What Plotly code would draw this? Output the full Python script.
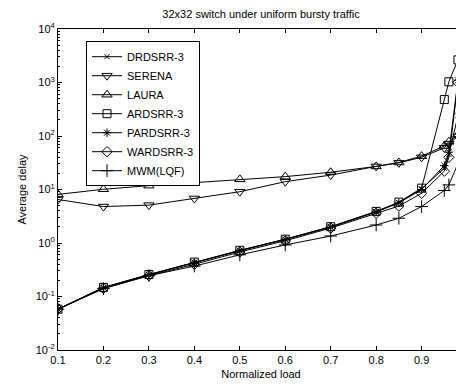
import plotly.graph_objects as go

load_low = [0.1, 0.2, 0.3, 0.4, 0.5, 0.6, 0.7, 0.8, 0.85, 0.9]

drdsrr_x = load_low + [0.95, 0.96, 0.98, 0.99]
drdsrr_y = [0.058, 0.146, 0.255, 0.43, 0.72, 1.17, 2.0, 3.85, 5.7, 10.3, 25, 45, 240, 720]

serena_x = load_low + [0.95, 0.96, 0.98, 0.99]
serena_y = [6.5, 4.8, 5.1, 6.8, 9.1, 14.0, 18.6, 27, 31.5, 40, 60, 72, 98, 130]

laura_x = load_low + [0.95, 0.96, 0.98, 0.99]
laura_y = [8.1, 10.1, 11.8, 13.4, 15.5, 17.4, 21, 27, 32, 42, 65, 78, 105, 145]

ardsrr_x = load_low + [0.95, 0.96, 0.98, 0.99]
ardsrr_y = [0.058, 0.148, 0.258, 0.44, 0.73, 1.18, 2.02, 3.9, 5.8, 10.6, 480, 1030, 2650, 3600]

pardsrr_x = load_low + [0.95, 0.96, 0.98, 0.99]
pardsrr_y = [0.058, 0.146, 0.255, 0.43, 0.72, 1.16, 1.98, 3.8, 5.6, 10.0, 28, 50, 1100, 2000]

wardsrr_x = load_low + [0.95, 0.96, 0.98, 0.99]
wardsrr_y = [0.058, 0.142, 0.245, 0.40, 0.68, 1.10, 1.9, 3.6, 4.9, 8.5, 22, 40, 1000, 1900]

mwm_x = load_low + [0.95, 0.96, 0.99]
mwm_y = [0.058, 0.14, 0.245, 0.37, 0.60, 0.92, 1.35, 2.17, 2.9, 4.8, 9.6, 12.2, 48]

series = [
    ("DRDSRR-3", drdsrr_x, drdsrr_y, "x-thin-open", 5),
    ("SERENA", serena_x, serena_y, "triangle-down-open", 9),
    ("LAURA", laura_x, laura_y, "triangle-up-open", 9),
    ("ARDSRR-3", ardsrr_x, ardsrr_y, "square-open", 8),
    ("PARDSRR-3", pardsrr_x, pardsrr_y, "asterisk-open", 7),
    ("WARDSRR-3", wardsrr_x, wardsrr_y, "diamond-open", 8),
    ("MWM(LQF)", mwm_x, mwm_y, "cross-thin-open", 9),
]

ytick_vals = [1e-2, 1e-1, 1e0, 1e1, 1e2, 1e3, 1e4]
ytick_text = ["10<sup>-2</sup>", "10<sup>-1</sup>", "10<sup>0</sup>", "10<sup>1</sup>",
              "10<sup>2</sup>", "10<sup>3</sup>", "10<sup>4</sup>"]
xtick_vals = [0.1, 0.2, 0.3, 0.4, 0.5, 0.6, 0.7, 0.8, 0.9]
xtick_text = ["0.1", "0.2", "0.3", "0.4", "0.5", "0.6", "0.7", "0.8", "0.9"]

fig = go.Figure()
for name, xs, ys, sym, sz in series:
    fig.add_trace(go.Scatter(
        x=xs, y=ys, name=name, mode="lines+markers",
        line=dict(color="black", width=1),
        marker=dict(symbol=sym, size=sz, color="black", line=dict(width=1, color="black")),
    ))

# page body has an 8px default margin, so the figure is 8px smaller than the window
W, H = 456, 378
FONT = "Liberation Sans, Arial, sans-serif"
fig.update_layout(
    width=W, height=H,
    margin=dict(l=50, r=0, t=21, b=36, autoexpand=False),
    paper_bgcolor="white", plot_bgcolor="white",
    font=dict(family=FONT, size=11, color="black"),
    title=dict(text="32x32 switch under uniform bursty traffic", x=0.5, xref="paper",
               y=1 - 6 / H, yref="container", yanchor="middle",
               font=dict(family=FONT, size=11, color="black")),
    showlegend=True,
    legend=dict(x=0.069, y=0.962, xanchor="left", yanchor="top",
                bgcolor="white", bordercolor="black", borderwidth=1,
                font=dict(family=FONT, size=11, color="black"),
                tracegroupgap=0),
)
fig.update_xaxes(
    range=[0.1, 0.9933], tickvals=xtick_vals, ticktext=xtick_text, automargin=False,
    ticks="inside", ticklen=4, tickcolor="black", showline=True, linecolor="black",
    linewidth=1, mirror="ticks", showgrid=False, zeroline=False,
    title=dict(text="Normalized load", standoff=5, font=dict(size=11)),
)
fig.update_yaxes(
    type="log", range=[-2, 4], tickvals=ytick_vals, ticktext=ytick_text, automargin=False,
    ticks="inside", ticklen=4, tickcolor="black", showline=True, linecolor="black",
    linewidth=1, mirror="ticks", showgrid=False, zeroline=False,
    minor=dict(ticks="inside", ticklen=2, tickcolor="black", dtick="D1", showgrid=False),
    title=dict(text="Average delay", standoff=6, font=dict(size=11)),
)
fig.write_html("out.html")
